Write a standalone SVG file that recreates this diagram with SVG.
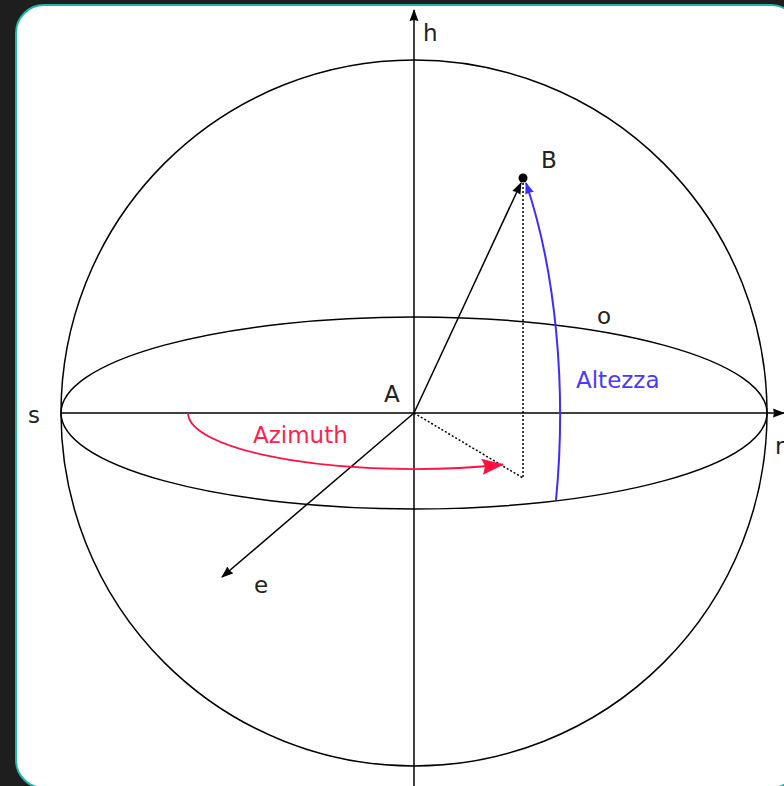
<svg xmlns="http://www.w3.org/2000/svg" width="784" height="786" viewBox="0 0 784 786">
<style>
.ln{fill:none;stroke:#000;stroke-width:1.5}
.dot{fill:none;stroke:#000;stroke-width:1.5;stroke-dasharray:2 2}
.t{font-family:"DejaVu Sans",Verdana,sans-serif;font-size:23px;fill:#222}
</style>
<defs>
<marker id="ah" viewBox="0 0 12 10" refX="11" refY="5" markerWidth="12" markerHeight="10" markerUnits="userSpaceOnUse" orient="auto"><path d="M0,0.5 L12,5 L0,9.5 L1,5 Z" fill="#000"/></marker>
<marker id="ahb" viewBox="0 0 12 10" refX="11" refY="5" markerWidth="12" markerHeight="10" markerUnits="userSpaceOnUse" orient="auto"><path d="M0,0.5 L12,5 L0,9.5 L1,5 Z" fill="#3c2cff"/></marker>
<marker id="ahr" viewBox="0 0 22 16" refX="21" refY="8" markerWidth="22" markerHeight="16" markerUnits="userSpaceOnUse" orient="auto"><path d="M0,0 L22,8 L0,16 L3,8 Z" fill="#ff1040"/></marker>
</defs>
<rect x="0" y="0" width="784" height="786" fill="#1e1e1e"/>
<rect x="16" y="5" width="783" height="783" rx="28" fill="#fff" stroke="#1fb5aa" stroke-width="2"/>
<g id="sphere">
<circle cx="414" cy="413" r="353" class="ln" stroke-width="1.3"/>
<ellipse cx="414" cy="413" rx="353" ry="96" class="ln" stroke-width="1.3"/>
</g>
<g id="connectors">
<line id="axis-h" x1="414" y1="786" x2="414" y2="10" class="ln" stroke-width="2" marker-end="url(#ah)"/>
<line id="axis-r" x1="61" y1="413" x2="784" y2="413" class="ln" stroke-width="2" marker-end="url(#ah)"/>
<line id="AB" x1="414" y1="413" x2="521" y2="183" class="ln" marker-end="url(#ah)"/>
<line id="Ae" x1="414" y1="413" x2="222" y2="577" class="ln" marker-end="url(#ah)"/>
<line id="Bproj" x1="523" y1="183" x2="523" y2="478" class="dot"/>
<line id="Aproj" x1="414" y1="413" x2="523" y2="478" class="dot"/>
<path id="azimuth-arc" d="M188 413 A226 56 0 0 0 503 464.5" fill="none" stroke="#ff1040" stroke-width="1.8" marker-end="url(#ahr)"/>
<path id="altezza-arc" d="M556 500 A143 358 0 0 0 526 183" fill="none" stroke="#3c2cff" stroke-width="2" marker-end="url(#ahb)"/>
</g>
<g id="B"><circle cx="523" cy="178" r="4.5" fill="#000"/><text class="t" x="541" y="168">B</text></g>
<g id="A"><text class="t" x="384" y="402">A</text></g>
<g id="h"><text class="t" x="423" y="41">h</text></g>
<g id="s"><text class="t" x="28" y="423">s</text></g>
<g id="r"><text class="t" x="775" y="454">r</text></g>
<g id="o"><text class="t" x="597" y="324">o</text></g>
<g id="e"><text class="t" x="254" y="593">e</text></g>
<g id="azimuth"><text class="t" x="253" y="443" style="fill:#ff1f4f">Azimuth</text></g>
<g id="altezza"><text class="t" x="576" y="388" style="fill:#4a3aff">Altezza</text></g>
</svg>
